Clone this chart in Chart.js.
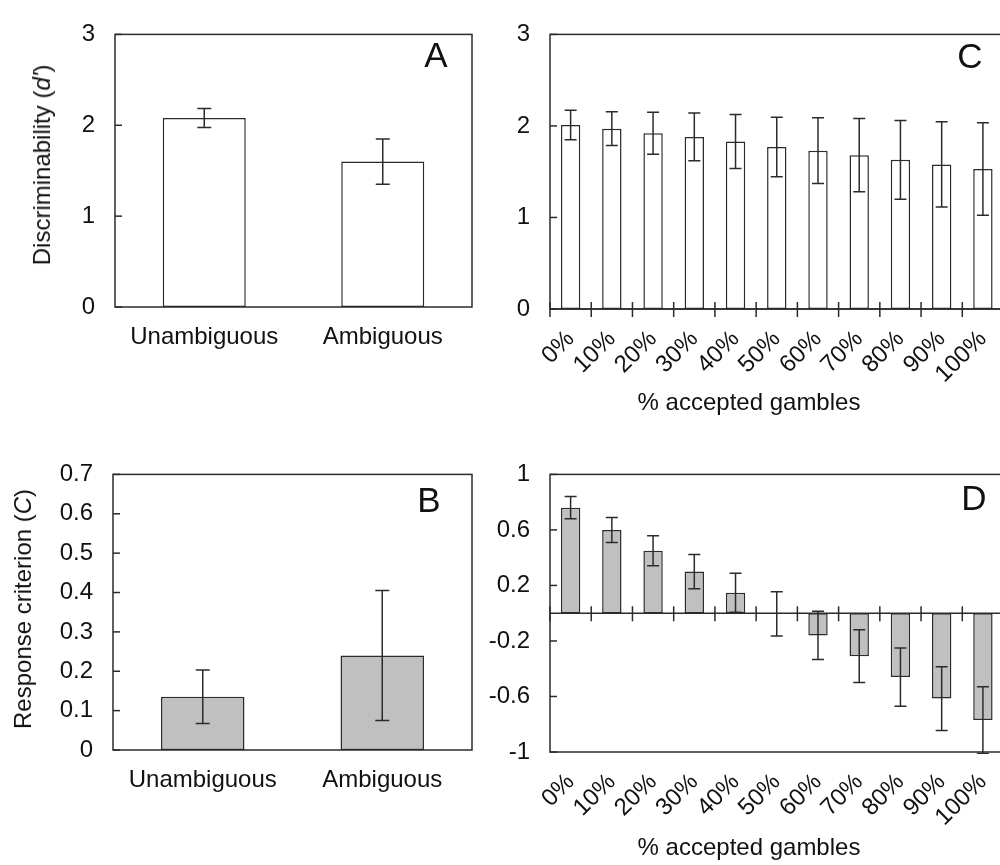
<!DOCTYPE html>
<html lang="en">
<head>
  <meta charset="UTF-8">
  <title>Discriminability and response criterion</title>
  <script src="https://cdn.jsdelivr.net/npm/chart.js"></script>
  <style>
    body {
      margin: 0;
      width: 1000px;
      height: 865px;
      overflow: hidden;
      position: relative;
      background: #fff;
      font-family: 'Liberation Sans', Arial, sans-serif;
      color: #111;
    }
    canvas { position: absolute; }
    .ytitle {
      position: absolute;
      font-size: 24px;
      white-space: nowrap;
      transform: translate(-50%, -50%) rotate(-90deg);
    }
    .xtitle {
      position: absolute;
      font-size: 24px;
      white-space: nowrap;
      transform: translate(-50%, -50%);
    }
  </style>
</head>
<body>
  <canvas id="chartA" width="480" height="430" style="left:0;top:0"></canvas>
  <canvas id="chartB" width="480" height="425" style="left:0;top:440px"></canvas>
  <canvas id="chartC" width="540" height="430" style="left:480px;top:0"></canvas>
  <canvas id="chartD" width="540" height="425" style="left:480px;top:440px"></canvas>

  <div class="ytitle" style="left:42px;top:165px">Discriminability (<i>d'</i>)</div>
  <div class="ytitle" style="left:23px;top:609px">Response criterion (<i>C</i>)</div>
  <div class="xtitle" style="left:749px;top:402px">% accepted gambles</div>
  <div class="xtitle" style="left:749px;top:847px">% accepted gambles</div>

  <script>
    // data
    const conditions = ['Unambiguous', 'Ambiguous'];
    const dprimeMeans = [2.08, 1.60];
    const dprimeErr = [0.105, 0.25];
    const criterionMeans = [0.135, 0.24];
    const criterionErr = [0.068, 0.165];

    const gambleLevels = ['0%', '10%', '20%', '30%', '40%', '50%', '60%', '70%', '80%', '90%', '100%'];
    const dprimeByLevel = [2.01, 1.97, 1.92, 1.88, 1.83, 1.77, 1.73, 1.68, 1.63, 1.58, 1.53];
    const dprimeByLevelErr = [0.16, 0.185, 0.23, 0.26, 0.295, 0.325, 0.36, 0.40, 0.43, 0.465, 0.505];
    const criterionByLevel = [0.76, 0.60, 0.45, 0.30, 0.147, -0.005, -0.16, -0.31, -0.46, -0.615, -0.77];
    const criterionByLevelErr = [0.08, 0.09, 0.108, 0.123, 0.14, 0.16, 0.174, 0.19, 0.21, 0.23, 0.24];

    const dprimeTicks = [0, 1, 2, 3];
    const criterionTicks = [0, 0.1, 0.2, 0.3, 0.4, 0.5, 0.6, 0.7];
    const criterionLevelTicks = [-1, -0.6, -0.2, 0.2, 0.6, 1];

    const ink = '#2b2b2b';
    const font = { family: "'Liberation Sans', Arial, sans-serif", size: 24 };

    // frame, inward ticks, error bars and panel letter
    const panelPlugin = {
      id: 'panel',
      afterDatasetsDraw(chart, args, opts) {
        const ctx = chart.ctx;
        const area = chart.chartArea;
        const x = chart.scales.x;
        const y = chart.scales.y;
        ctx.save();
        ctx.strokeStyle = ink;
        ctx.lineWidth = 1.5;

        // error bars
        const meta = chart.getDatasetMeta(0);
        const values = chart.data.datasets[0].data;
        ctx.save();
        ctx.beginPath();
        ctx.rect(area.left, area.top - 2, area.right - area.left, area.bottom - area.top + 4);
        ctx.clip();
        meta.data.forEach((bar, i) => {
          const hi = y.getPixelForValue(values[i] + opts.errors[i]);
          const lo = y.getPixelForValue(values[i] - opts.errors[i]);
          const c = opts.cap / 2;
          ctx.beginPath();
          ctx.moveTo(bar.x, hi); ctx.lineTo(bar.x, lo);
          ctx.moveTo(bar.x - c, hi); ctx.lineTo(bar.x + c, hi);
          ctx.moveTo(bar.x - c, lo); ctx.lineTo(bar.x + c, lo);
          ctx.stroke();
        });
        ctx.restore();

        // box
        ctx.strokeRect(area.left, area.top, area.right - area.left, area.bottom - area.top);

        // inward y ticks
        y.ticks.forEach(t => {
          const py = y.getPixelForValue(t.value);
          ctx.beginPath();
          ctx.moveTo(area.left, py); ctx.lineTo(area.left + 7, py);
          ctx.stroke();
        });

        // zero line with crossing category ticks
        if (opts.crossTicks) {
          const y0 = y.getPixelForValue(0);
          ctx.beginPath();
          ctx.moveTo(area.left, y0); ctx.lineTo(area.right, y0);
          const n = chart.data.labels.length;
          for (let i = 0; i < n; i++) {
            const px = i === 0 ? area.left : (x.getPixelForValue(i - 1) + x.getPixelForValue(i)) / 2;
            ctx.moveTo(px, y0 - 7); ctx.lineTo(px, y0 + 8);
          }
          ctx.stroke();
        }

        // panel letter
        ctx.fillStyle = '#111';
        ctx.font = "35px 'Liberation Sans', Arial, sans-serif";
        ctx.textAlign = 'center';
        ctx.textBaseline = 'alphabetic';
        ctx.fillText(opts.letter, opts.lx, opts.ly);
        ctx.restore();
      }
    };

    function makeChart(id, cfg) {
      new Chart(document.getElementById(id), {
        type: 'bar',
        data: {
          labels: cfg.labels,
          datasets: [{
            data: cfg.values,
            backgroundColor: cfg.fill,
            borderColor: ink,
            borderWidth: 1.5,
            borderSkipped: false,
            barPercentage: cfg.barPct,
            categoryPercentage: 1
          }]
        },
        options: {
          responsive: false,
          animation: false,
          devicePixelRatio: 1,
          layout: { padding: { left: 0, right: cfg.padRight, top: cfg.padTop, bottom: 0 } },
          plugins: {
            legend: { display: false },
            tooltip: { enabled: false },
            panel: cfg.panel
          },
          scales: {
            x: {
              grid: { display: false, drawTicks: false },
              border: { display: false },
              ticks: {
                color: '#111',
                font: font,
                padding: cfg.xPad,
                autoSkip: false,
                minRotation: cfg.rotate,
                maxRotation: cfg.rotate
              },
              afterFit(scale) { scale.height = cfg.xHeight; }
            },
            y: {
              min: cfg.ticks[0],
              max: cfg.ticks[cfg.ticks.length - 1],
              grid: { display: false, drawTicks: false },
              border: { display: false },
              ticks: { color: '#111', font: font, padding: 20, callback: v => String(v) },
              afterBuildTicks(scale) { scale.ticks = cfg.ticks.map(v => ({ value: v })); },
              afterFit(scale) { scale.width = cfg.yWidth; }
            }
          }
        },
        plugins: [panelPlugin]
      });
    }

    makeChart('chartA', {
      labels: conditions, values: dprimeMeans, fill: '#ffffff', barPct: 0.465,
      ticks: dprimeTicks, yWidth: 115, xHeight: 123, padTop: 21, padRight: 8,
      xPad: 16, rotate: 0,
      panel: { errors: dprimeErr, cap: 14, crossTicks: false, letter: 'A', lx: 436, ly: 67 }
    });

    makeChart('chartB', {
      labels: conditions, values: criterionMeans, fill: '#c0c0c0', barPct: 0.465,
      ticks: criterionTicks, yWidth: 113, xHeight: 115, padTop: 24, padRight: 8,
      xPad: 16, rotate: 0,
      panel: { errors: criterionErr, cap: 14, crossTicks: false, letter: 'B', lx: 429, ly: 72 }
    });

    makeChart('chartC', {
      labels: gambleLevels, values: dprimeByLevel, fill: '#ffffff', barPct: 0.47,
      ticks: dprimeTicks, yWidth: 70, xHeight: 121, padTop: 22, padRight: 16,
      xPad: 16, rotate: 45,
      panel: { errors: dprimeByLevelErr, cap: 12, crossTicks: true, letter: 'C', lx: 490, ly: 68 }
    });

    makeChart('chartD', {
      labels: gambleLevels, values: criterionByLevel, fill: '#c0c0c0', barPct: 0.47,
      ticks: criterionLevelTicks, yWidth: 70, xHeight: 113, padTop: 24, padRight: 16,
      xPad: 16, rotate: 45,
      panel: { errors: criterionByLevelErr, cap: 12, crossTicks: true, letter: 'D', lx: 494, ly: 70 }
    });
  </script>
</body>
</html>
